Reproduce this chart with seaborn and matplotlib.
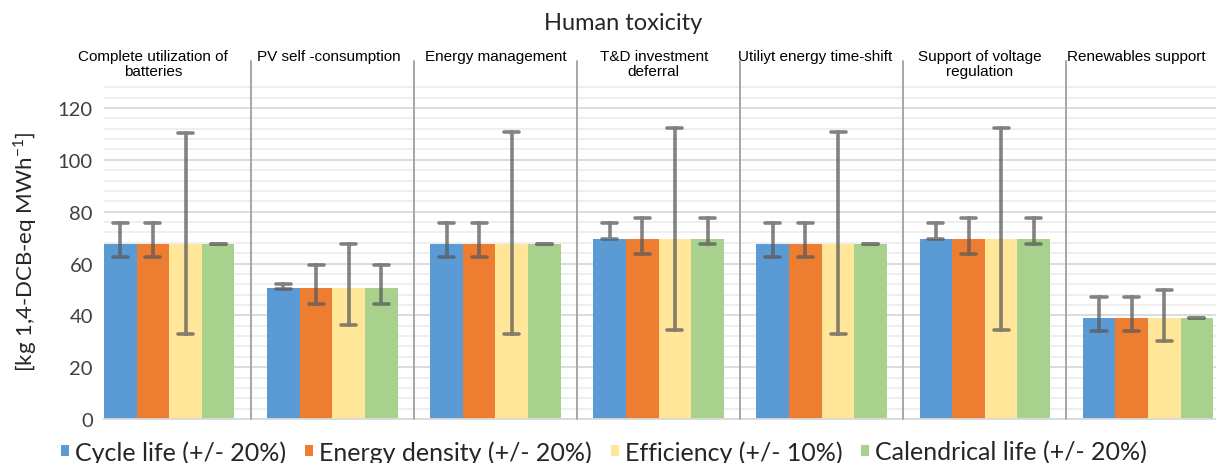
import numpy as np
import pandas as pd
import matplotlib
matplotlib.use("Agg")
import matplotlib.pyplot as plt
from matplotlib.ticker import MultipleLocator
import seaborn as sns

# Storage applications (x-axis groups)
categories = [
    "Complete utilization of\nbatteries",
    "PV self -consumption",
    "Energy management",
    "T&D investment\ndeferral",
    "Utiliyt energy time-shift",
    "Support of voltage\nregulation",
    "Renewables support",
]

series = [
    "Cycle life (+/- 20%)",
    "Energy density (+/- 20%)",
    "Efficiency (+/- 10%)",
    "Calendrical life (+/- 20%)",
]

# Base-case impact per application [kg 1,4-DCB-eq MWh-1]
baseline = [67.6, 50.4, 67.6, 69.3, 67.6, 69.3, 39.0]

# Sensitivity range (low / high) for each parameter
cycle_low = [62.5, 50.2, 62.6, 69.3, 62.6, 69.3, 33.8]
cycle_high = [75.6, 52.2, 75.6, 75.6, 75.6, 75.6, 46.9]
density_low = [62.5, 44.4, 62.6, 63.8, 62.6, 63.8, 33.8]
density_high = [75.6, 59.4, 75.6, 77.5, 75.6, 77.5, 46.9]
eff_low = [32.7, 36.3, 32.7, 34.3, 32.7, 34.3, 30.2]
eff_high = [110.5, 67.5, 110.6, 112.1, 110.6, 112.1, 49.8]
cal_low = [67.6, 44.4, 67.6, 67.6, 67.6, 67.6, 39.0]
cal_high = [67.6, 59.4, 67.6, 77.5, 67.6, 77.5, 39.0]

colors = ["#5B9BD5", "#ED7D31", "#FFE699", "#A9D18E"]

ranges = {
    series[0]: (cycle_low, cycle_high),
    series[1]: (density_low, density_high),
    series[2]: (eff_low, eff_high),
    series[3]: (cal_low, cal_high),
}

# Long table: low, base and high for every bar; the median gives the bar
# height and the full percentile interval gives the sensitivity range.
rows = []
for s in series:
    lo, hi = ranges[s]
    for c, b, l, h in zip(categories, baseline, lo, hi):
        for v in (l, b, h):
            rows.append({"application": c, "parameter": s, "value": v})
df = pd.DataFrame(rows)

sns.set_theme(style="white")
plt.rcParams["font.family"] = ["Lato", "DejaVu Sans"]
plt.rcParams["mathtext.fontset"] = "custom"
plt.rcParams["mathtext.rm"] = "Lato"

fig = plt.figure(figsize=(12.16, 4.64), dpi=100)
ax = fig.add_axes([104 / 1216, 44 / 464, 1112 / 1216, 333 / 464])

sns.barplot(
    data=df, x="application", y="value", hue="parameter",
    order=categories, hue_order=series, palette=colors,
    estimator="median", errorbar=("pi", 100),
    capsize=0.37, linewidth=0, saturation=1,
    err_kws={"color": "#5a5a5a", "linewidth": 2.6, "alpha": 0.75},
    ax=ax,
)

ax.set_xlim(-0.4, 6.417)
ax.set_ylim(0, 128.5)
ax.set_yticks(np.arange(0, 121, 20))
ax.yaxis.set_minor_locator(MultipleLocator(4))
ax.grid(which="major", axis="y", color="#d9d9d9", linewidth=1.3)
ax.grid(which="minor", axis="y", color="#eeeeee", linewidth=1.3)
ax.set_axisbelow(True)
ax.tick_params(axis="both", which="both", length=0)
ax.tick_params(axis="y", labelsize=14.5, pad=8, labelcolor="#404040")
ax.set_xticklabels([])
ax.set_xlabel("")
ax.set_ylabel("")
for side in ("top", "right", "left"):
    ax.spines[side].set_visible(False)
ax.spines["bottom"].set_color("#d9d9d9")
ax.spines["bottom"].set_linewidth(1.3)

# Group separators and application names above the plot area
xt = ax.get_xaxis_transform()
for i in range(len(categories) - 1):
    ax.plot([i + 0.5, i + 0.5], [0, 1.076], transform=xt, color="#a6a6a6",
            linewidth=1.4, clip_on=False, zorder=3)
label_shift = [-0.10, -0.02, 0.0, -0.03, -0.04, -0.03, -0.07]
for i, (c, dx) in enumerate(zip(categories, label_shift)):
    ax.text(i + dx, 1.11, c, transform=xt, ha="center", va="top",
            fontsize=11, family=["Liberation Sans", "DejaVu Sans"],
            color="#000000", linespacing=1.05)

fig.text(623 / 1216, 1 - 24 / 464, "Human toxicity", ha="center",
         va="center", fontsize=17, color="#262626")
fig.text(25 / 1216, 1 - 252 / 464, r"[kg 1,4-DCB-eq MWh$^{\mathregular{-1}}$]",
         rotation=90, ha="center", va="center", fontsize=16, color="#262626")

handles, labels = ax.get_legend_handles_labels()
ax.get_legend().remove()
fig.legend(handles, labels, loc="center", bbox_to_anchor=(604 / 1216, 1 - 453 / 464),
           ncol=4, frameon=False, fontsize=18, handlelength=0.32, handleheight=0.32,
           handletextpad=0.25, columnspacing=0.75, labelcolor="#262626")

fig.savefig("out.png", dpi=100)
